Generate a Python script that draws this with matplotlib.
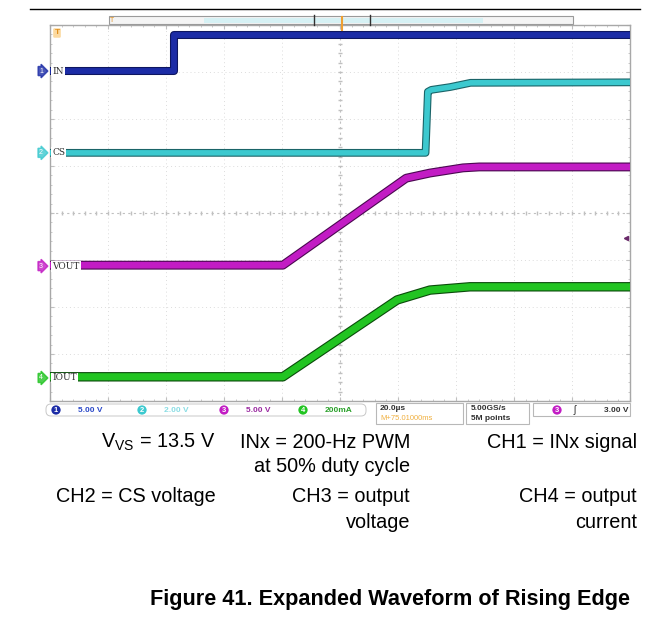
import numpy as np
import matplotlib.pyplot as plt
import matplotlib.patheffects as pe
import matplotlib.transforms as mtransforms
from matplotlib.patches import Rectangle, FancyBboxPatch

plt.rcParams['font.family'] = ['Liberation Sans', 'DejaVu Sans']

W, H = 658, 622

# traces (time in us, values in channel units)
t_in = [0, 42.8, 42.8, 200]
v_in = [0.0, 0.0, 3.85, 3.85]

t_cs = [0, 129.5, 130.3, 131.5, 138, 145, 200]
v_cs = [0.0, 0.0, 2.6, 2.68, 2.8, 2.98, 3.0]

t_vout = [0, 80.3, 122.8, 131, 142.4, 148, 200]
v_vout = [0.1, 0.1, 9.35, 9.9, 10.45, 10.55, 10.55]

t_iout = [0, 80.3, 119.7, 131, 144.8, 200]
i_iout = [5, 5, 332, 374, 388, 388]

# channel settings
ch_names = ["IN", "CS", "VOUT", "IOUT"]
ch_scale = [5.0, 2.0, 5.0, 200.0]          # units per division
ch_offset = [3.02, 1.28, -1.13, -3.51]     # ground position in divisions
ch_scale_txt = ["5.00 V", "2.00 V", "5.00 V", "200mA"]
ch_color = ["#1c2ca6", "#3cc9cf", "#c21cc4", "#22c422"]
ch_edge = ["#0e1660", "#1a6468", "#4a0850", "#0a4a0a"]
ch_txt = ["#2a48c8", "#8adde4", "#9a2aa0", "#2aa02a"]
ch_lw = [4.2, 4.0, 4.8, 5.2]

traces = [(t_in, v_in), (t_cs, v_cs), (t_vout, v_vout), (t_iout, i_iout)]

fig = plt.figure(figsize=(W / 100, H / 100), dpi=100)

# scope screen: 10 div x 20 us, 8 div
ax = fig.add_axes([50 / W, 1 - 401 / H, 580 / W, 376 / H])
ax.set_xlim(0, 200)
ax.set_ylim(-4, 4)
ax.set_xticks(np.arange(0, 201, 20))
ax.set_yticks(np.arange(-4, 5, 1))
ax.set_xticks(np.arange(0, 201, 4), minor=True)
ax.set_yticks(np.arange(-4, 4.01, 0.2), minor=True)
ax.tick_params(which='both', direction='in', top=True, right=True,
               labelbottom=False, labelleft=False, color='#c0c0c0')
ax.tick_params(which='major', length=3)
ax.tick_params(which='minor', length=1.5)
for s in ax.spines.values():
    s.set_color('#a8a8a8')
    s.set_linewidth(1.0)

# graticule
for gx in range(20, 200, 20):
    if gx != 100:
        ax.axvline(gx, color='#dcdcdc', lw=0.7, ls=(0, (1, 3)), zorder=0)
for gy in range(-3, 4):
    if gy != 0:
        ax.axhline(gy, color='#dcdcdc', lw=0.7, ls=(0, (1, 3)), zorder=0)
ax.axvline(100, color='#c0c0c0', lw=0.8, ls=(0, (2, 3)), zorder=0)
ax.axhline(0, color='#c0c0c0', lw=0.8, ls=(0, (2, 3)), zorder=0)
mx = np.arange(0, 201, 4)
ax.plot(mx, np.zeros_like(mx), ls='none', marker='|', ms=3.5, color='#c0c0c0', zorder=0)
my = np.arange(-4, 4.01, 0.2)
ax.plot(np.full_like(my, 100), my, ls='none', marker='_', ms=3.5, color='#c0c0c0', zorder=0)

# waveforms
for (t, v), sc, off, c, ec, lw in zip(traces, ch_scale, ch_offset, ch_color, ch_edge, ch_lw):
    y = np.array(v) / sc + off
    ax.plot(t, y, color=c, lw=lw, solid_joinstyle='round', zorder=3,
            path_effects=[pe.Stroke(linewidth=lw + 1.6, foreground=ec), pe.Normal()])

# channel ground markers and names
blend = mtransforms.blended_transform_factory(ax.transAxes, ax.transData)
for i, (name, off, c) in enumerate(zip(ch_names, ch_offset, ch_color)):
    ax.text(-0.012, off, str(i + 1), transform=blend, ha='right', va='center',
            fontsize=5, color='white', clip_on=False, zorder=5,
            bbox=dict(boxstyle='rarrow,pad=0.15', fc=c, ec=c, alpha=0.8))
    ax.text(0.004, off, name, transform=blend, ha='left', va='center',
            fontsize=6.5, family='DejaVu Serif', color='#303030', zorder=5,
            bbox=dict(boxstyle='square,pad=0.1', fc='white', ec='none'))

# trigger level marker (CH3, 3.00 V)
ax.plot([198.5], [3.0 / ch_scale[2] + ch_offset[2]], marker='<', ms=3,
        color='#6a2a6a', clip_on=False, zorder=5)

# overlay in pixel coordinates for frame, status bar and text
ov = fig.add_axes([0, 0, 1, 1], zorder=10)
ov.set_xlim(0, W)
ov.set_ylim(H, 0)
ov.axis('off')

ov.plot([30, 640], [9, 9], color='black', lw=1.0)

# record view bar
ov.add_patch(Rectangle((109, 16), 464, 8, fc='#f4f4f4', ec='#9a9a9a', lw=0.8))
ov.add_patch(Rectangle((204, 17.5), 279, 5, fc='#d6f1f4', ec='none'))
ov.plot([314, 314], [15, 25], color='#303030', lw=1.0)
ov.plot([370, 370], [15, 25], color='#303030', lw=1.0)
ov.plot([342, 342], [17, 30], color='#f0a030', lw=1.5)
ov.text(112, 21, 'T', fontsize=5, color='#e09020', ha='center', va='center')
ov.text(57, 33, 'T', fontsize=6, color='#e09020', ha='center', va='center', weight='bold',
        bbox=dict(boxstyle='round,pad=0.15', fc='#fbd9a0', ec='none'))

# status bar
sb_y = 410
chan_x = [50, 136, 218, 297]
for i in range(4):
    x0 = chan_x[i]
    ov.text(x0 + 6, sb_y, str(i + 1), fontsize=5.5, color='white', ha='center', va='center',
            weight='bold', bbox=dict(boxstyle='circle,pad=0.15', fc=ch_color[i], ec='none'))
    ov.text(x0 + 28, sb_y, ch_scale_txt[i], fontsize=6, color=ch_txt[i], ha='left',
            va='center', weight='bold')
ov.add_patch(FancyBboxPatch((46, 404), 320, 12, boxstyle='round,pad=0,rounding_size=5',
                            fc='none', ec='#c8c8c8', lw=0.7))
ov.add_patch(Rectangle((376, 403), 87, 21, fc='white', ec='#b8b8b8', lw=0.8))
ov.text(380, 409, '20.0\u00b5s', fontsize=6, weight='bold', color='#303030', va='center')
ov.text(380, 419, 'M+75.01000ms', fontsize=5.5, color='#f0b040', va='center')
ov.add_patch(Rectangle((466, 403), 63, 21, fc='white', ec='#b8b8b8', lw=0.8))
ov.text(471, 409, '5.00GS/s', fontsize=6, weight='bold', color='#303030', va='center')
ov.text(471, 419, '5M points', fontsize=6, weight='bold', color='#303030', va='center')
ov.add_patch(Rectangle((533, 403), 97, 13, fc='white', ec='#b8b8b8', lw=0.8))
ov.text(557, sb_y, '3', fontsize=5.5, color='white', ha='center', va='center', weight='bold',
        bbox=dict(boxstyle='circle,pad=0.15', fc=ch_color[2], ec='none'))
ov.text(575, sb_y, '\u0283', fontsize=7, color='#303030', ha='center', va='center')
ov.text(628, sb_y, '3.00 V', fontsize=6, weight='bold', color='#303030', ha='right', va='center')

# conditions text
fs = 14.3
ov.text(216, 442, 'V$_{\\mathregular{VS}}$ = 13.5 V', fontsize=fs, ha='right', va='center')
ov.text(410, 442, 'INx = 200-Hz PWM', fontsize=fs, ha='right', va='center')
ov.text(410, 467, 'at 50% duty cycle', fontsize=fs, ha='right', va='center')
ov.text(637, 442, 'CH1 = INx signal', fontsize=fs, ha='right', va='center')
ov.text(216, 497, 'CH2 = CS voltage', fontsize=fs, ha='right', va='center')
ov.text(410, 497, 'CH3 = output', fontsize=fs, ha='right', va='center')
ov.text(410, 522, 'voltage', fontsize=fs, ha='right', va='center')
ov.text(637, 497, 'CH4 = output', fontsize=fs, ha='right', va='center')
ov.text(637, 522, 'current', fontsize=fs, ha='right', va='center')

ov.text(390, 600, 'Figure 41. Expanded Waveform of Rising Edge', fontsize=15.6,
        weight='bold', ha='center', va='center')

fig.savefig('out.png', dpi=100)
